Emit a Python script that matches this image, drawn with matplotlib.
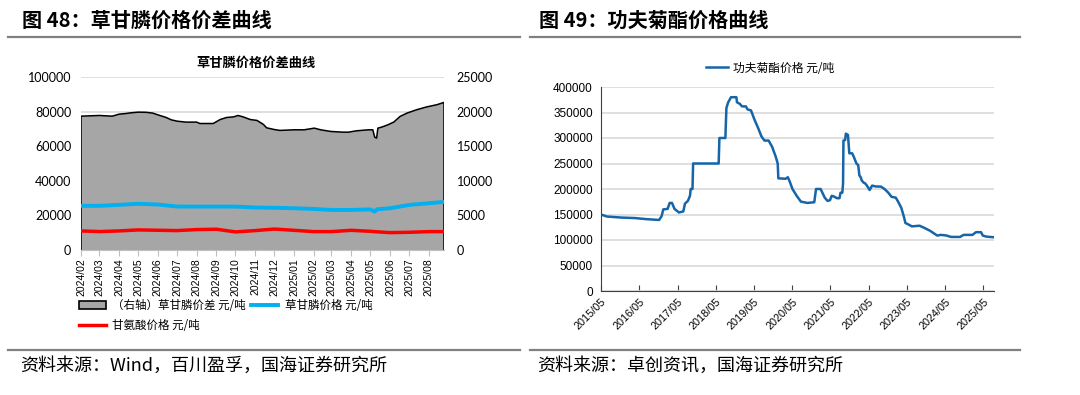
import matplotlib
matplotlib.use('Agg')
import matplotlib.pyplot as plt
from matplotlib.patches import Patch
from matplotlib.lines import Line2D
import pandas as pd

plt.rcParams['font.family'] = ['Noto Sans CJK SC', 'DejaVu Sans']

# ---- 图48 草甘膦价格价差 (元/吨) ----
spread_dates = ['2024-02-01', '2024-03-01', '2024-03-21', '2024-04-01', '2024-04-12', '2024-04-20',
                '2024-05-01', '2024-05-13', '2024-05-24', '2024-06-01', '2024-06-14', '2024-06-22',
                '2024-07-01', '2024-07-15', '2024-08-01', '2024-08-06', '2024-08-27', '2024-09-07',
                '2024-09-17', '2024-09-28', '2024-10-05', '2024-10-13', '2024-10-24', '2024-11-04',
                '2024-11-14', '2024-11-19', '2024-12-01', '2024-12-10', '2025-01-01', '2025-01-17',
                '2025-02-02', '2025-02-12', '2025-02-28', '2025-03-19', '2025-03-28', '2025-04-09',
                '2025-04-28', '2025-05-05', '2025-05-08', '2025-05-11', '2025-05-13', '2025-05-19',
                '2025-05-29', '2025-06-07', '2025-06-17', '2025-06-28', '2025-07-13', '2025-07-28',
                '2025-08-14', '2025-08-25']
spread_values = [19340, 19440, 19340, 19630, 19730, 19830,
                 19920, 19900, 19780, 19530, 19150, 18810,
                 18620, 18480, 18480, 18280, 18280, 18860,
                 19150, 19240, 19440, 19240, 18860, 18720,
                 18140, 17660, 17410, 17280, 17370, 17370,
                 17610, 17370, 17130, 17030, 17030, 17220,
                 17370, 17370, 16310, 16170, 17610, 17760,
                 18100, 18490, 19310, 19790, 20270, 20660,
                 21000, 21330]

price_dates = ['2024-02-01', '2024-03-01', '2024-04-01', '2024-05-01', '2024-06-01', '2024-07-01',
               '2024-08-01', '2024-09-01', '2024-10-01', '2024-11-01', '2024-12-01', '2025-01-01',
               '2025-02-01', '2025-03-01', '2025-04-01', '2025-05-01', '2025-05-08', '2025-05-12',
               '2025-06-01', '2025-07-01', '2025-08-01', '2025-08-25']
glyphosate_price = [25540, 25540, 26110, 26700, 26300, 25130,
                    25100, 25100, 25100, 24560, 24400, 24130,
                    23740, 23160, 23160, 23450, 22200, 23550,
                    24130, 26060, 27020, 27790]
glycine_price = [11030, 10640, 11030, 11610, 11410, 11220,
                 11800, 12000, 10450, 11220, 12100, 11390,
                 10620, 10620, 11390, 10800, 10600, 10500,
                 10040, 10230, 10620, 10620]

left_ticks = pd.date_range('2024-02-01', '2025-08-01', freq='MS')

# ---- 图49 功夫菊酯价格 (元/吨) ----
cyh_dates = ['2015-05-01', '2015-06-27', '2015-11-10', '2016-03-22', '2016-07-01', '2016-11-06',
             '2016-11-30', '2016-12-16', '2017-01-26', '2017-02-15', '2017-03-09', '2017-04-02',
             '2017-05-15', '2017-06-25', '2017-07-11', '2017-08-08', '2017-08-28', '2017-09-04',
             '2017-09-21', '2017-09-27', '2018-05-29', '2018-06-05', '2018-08-01', '2018-08-11',
             '2018-08-28', '2018-09-24', '2018-11-14', '2018-11-20', '2018-12-17', '2019-01-07',
             '2019-02-13', '2019-03-01', '2019-04-03', '2019-05-06', '2019-06-09', '2019-07-12',
             '2019-08-09', '2019-09-18', '2019-10-21', '2019-11-24', '2019-12-14', '2019-12-20',
             '2020-02-26', '2020-03-20', '2020-04-06', '2020-05-03', '2020-06-12', '2020-07-22',
             '2020-09-21', '2020-11-27', '2020-12-14', '2021-01-27', '2021-03-07', '2021-04-03',
             '2021-04-26', '2021-05-13', '2021-06-09', '2021-07-02', '2021-07-26', '2021-08-05',
             '2021-08-22', '2021-08-29', '2021-09-02', '2021-09-18', '2021-09-25', '2021-10-15',
             '2021-10-28', '2021-11-24', '2021-12-08', '2022-01-04', '2022-01-21', '2022-02-01',
             '2022-02-14', '2022-02-24', '2022-03-11', '2022-03-28', '2022-04-14', '2022-05-10',
             '2022-06-03', '2022-07-06', '2022-08-26', '2022-09-29', '2022-11-02', '2022-12-05',
             '2023-01-15', '2023-02-11', '2023-03-08', '2023-04-01', '2023-04-17', '2023-05-20',
             '2023-06-17', '2023-08-30', '2023-10-19', '2023-12-09', '2024-01-12', '2024-02-15',
             '2024-03-18', '2024-05-08', '2024-06-27', '2024-09-20', '2024-10-23', '2025-01-16',
             '2025-02-19', '2025-04-08', '2025-04-25', '2025-05-28', '2025-08-10']
cyh_price = [150000, 146000, 144000, 143000, 141000, 139300,
             146700, 160000, 161000, 172700, 172700, 161000,
             154000, 156000, 171300, 176700, 186700, 200000,
             200000, 250000, 250000, 300000, 300000, 359000,
             370000, 380000, 380000, 370000, 367000, 362000,
             362000, 356000, 354000, 336000, 320000, 303000,
             295000, 295000, 283000, 264000, 250000, 221000,
             220000, 223000, 215000, 200000, 186700, 175300,
             172700, 174000, 200000, 200000, 183000, 176700,
             178000, 186700, 184700, 182000, 182000, 192700,
             192700, 210000, 295000, 296000, 308500, 306000,
             270000, 270000, 264000, 250000, 246700, 226700,
             223000, 216700, 213000, 211000, 206700, 198000,
             206700, 205000, 204700, 200000, 193300, 184700,
             183000, 173300, 163300, 146700, 133300, 130000,
             126700, 128000, 123300, 118000, 113300, 108700,
             110000, 109000, 106000, 106000, 110000, 110000,
             115300, 115300, 108700, 106700, 105300]

right_ticks = [pd.Timestamp(f'{y}-05-01') for y in range(2015, 2026)]

fig = plt.figure(figsize=(10.8, 3.95), dpi=100)
W, H = 1080, 395

# ---------- left chart ----------
ax = fig.add_axes([81 / W, 1 - 250 / H, 363 / W, 173 / H])
axr = ax.twinx()
sd = pd.to_datetime(spread_dates)
axr.fill_between(sd, spread_values, 0, facecolor='#a6a6a6', edgecolor='none')
axr.plot([sd[0]] + list(sd) + [sd[-1]], [0] + spread_values + [0], color='black', lw=1.1)
axr.set_ylim(0, 25000)
axr.set_yticks(range(0, 25001, 5000))
axr.grid(axis='y', color='#d9d9d9', lw=1.2)
axr.set_axisbelow(True)

pdates = pd.to_datetime(price_dates)
ax.plot(pdates, glyphosate_price, color='#00b0f0', lw=2.8)
ax.plot(pdates, glycine_price, color='#ff0000', lw=2.5)
ax.set_ylim(0, 100000)
ax.set_yticks(range(0, 100001, 20000))
ax.set_zorder(axr.get_zorder() + 1)
ax.patch.set_visible(False)
ax.set_xlim(sd[0], sd[-1])

for s in ['top', 'left', 'right']:
    ax.spines[s].set_visible(False)
for s in axr.spines.values():
    s.set_visible(False)
ax.spines['bottom'].set_color('#bfbfbf')
ax.set_xticks(left_ticks)
ax.set_xticklabels([d.strftime('%Y/%m') for d in left_ticks], rotation=90,
                   fontsize=7.5, family='Liberation Sans')
ax.tick_params(axis='x', color='#bfbfbf', length=4, pad=2)
ax.tick_params(axis='y', length=0, pad=7, labelsize=9)
axr.tick_params(axis='y', length=0, pad=9, labelsize=9)
for lab in ax.get_yticklabels() + axr.get_yticklabels():
    lab.set_family('Lato')

handles = [Patch(facecolor='#a6a6a6', edgecolor='black', lw=1.2),
           Line2D([], [], color='#ff0000', lw=2.5),
           Line2D([], [], color='#00b0f0', lw=2.8)]
labels = ['（右轴）草甘膦价差 元/吨', '甘氨酸价格 元/吨', '草甘膦价格 元/吨']
fig.legend(handles, labels, ncol=2, loc='upper left', bbox_to_anchor=(79 / W, 1 - 299 / H),
           frameon=False, fontsize=8.3, handlelength=2.3, handletextpad=0.6,
           columnspacing=0.45, labelspacing=0.65, borderpad=0, borderaxespad=0)

fig.text(256 / W, 1 - 63 / H, '草甘膦价格价差曲线', ha='center', va='center',
         fontsize=9.5, weight='bold')

# ---------- right chart ----------
axb = fig.add_axes([601 / W, 1 - 291 / H, 393 / W, 204 / H])
axb.plot(pd.to_datetime(cyh_dates), cyh_price, color='#1565a8', lw=1.8, label='功夫菊酯价格 元/吨')
axb.set_ylim(0, 400000)
axb.set_yticks(range(0, 400001, 50000))
axb.set_xlim(pd.Timestamp('2015-05-01'), pd.Timestamp(cyh_dates[-1]))
axb.grid(axis='y', color='#d9d9d9', lw=1.2)
axb.set_axisbelow(True)
for s in ['top', 'right']:
    axb.spines[s].set_visible(False)
for s in ['left', 'bottom']:
    axb.spines[s].set_color('#404040')
axb.set_xticks(right_ticks)
axb.set_xticklabels([d.strftime('%Y/%m') for d in right_ticks], rotation=45, ha='right',
                    rotation_mode='anchor', fontsize=7.8, family='Liberation Sans')
axb.tick_params(axis='x', direction='in', length=4, color='#404040', pad=4)
axb.tick_params(axis='y', length=0, pad=6, labelsize=8.5)
for lab in axb.get_yticklabels():
    lab.set_family('Liberation Sans')
fig.legend(*axb.get_legend_handles_labels(), loc='center left',
           bbox_to_anchor=(706 / W, 1 - 68 / H), frameon=False, fontsize=8.5,
           handlelength=1.9, handletextpad=0.4, borderpad=0, borderaxespad=0)

# ---------- titles, rules, sources ----------
fig.text(22 / W, 1 - 20 / H, '图 48：草甘膦价格价差曲线', fontsize=14.5, weight='bold', va='center')
fig.text(539 / W, 1 - 20 / H, '图 49：功夫菊酯价格曲线', fontsize=14.5, weight='bold', va='center')
for x0, x1 in [(8, 520), (530, 1020)]:
    fig.add_artist(Line2D([x0 / W, x1 / W], [1 - 37 / H] * 2, color='#808080', lw=1.6))
    fig.add_artist(Line2D([x0 / W, x1 / W], [1 - 350 / H] * 2, color='#808080', lw=1.6))
fig.text(20 / W, 1 - 366 / H, '资料来源：Wind，百川盈孚，国海证券研究所', fontsize=13, va='center')
fig.text(537 / W, 1 - 366 / H, '资料来源：卓创资讯，国海证券研究所', fontsize=13, va='center')

fig.savefig('out.png', dpi=100)
